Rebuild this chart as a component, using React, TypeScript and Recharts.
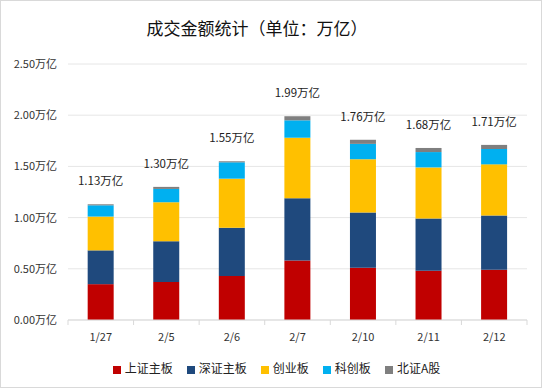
import { BarChart, Bar, XAxis, YAxis, CartesianGrid, Legend, LabelList } from 'recharts'

const categories = ['1/27', '2/5', '2/6', '2/7', '2/10', '2/11', '2/12']
const shMain = [0.35, 0.37, 0.43, 0.58, 0.51, 0.48, 0.49]
const szMain = [0.33, 0.4, 0.47, 0.61, 0.54, 0.51, 0.53]
const chiNext = [0.33, 0.38, 0.48, 0.59, 0.52, 0.5, 0.5]
const star = [0.11, 0.13, 0.16, 0.17, 0.15, 0.15, 0.15]
const bse = [0.01, 0.02, 0.01, 0.04, 0.04, 0.04, 0.04]
const yTicks = [0, 0.5, 1, 1.5, 2, 2.5]

const series = [
  { key: 'sh', name: '上证主板', color: '#C00000' },
  { key: 'sz', name: '深证主板', color: '#1F497D' },
  { key: 'cy', name: '创业板', color: '#FFC000' },
  { key: 'kc', name: '科创板', color: '#00B0F0' },
  { key: 'bz', name: '北证A股', color: '#7F7F7F' }
]

const data = categories.map((c, i) => ({
  date: c,
  sh: shMain[i],
  sz: szMain[i],
  cy: chiNext[i],
  kc: star[i],
  bz: bse[i],
  total: shMain[i] + szMain[i] + chiNext[i] + star[i] + bse[i]
}))

const FONT = '"Noto Sans CJK SC", "Noto Sans", sans-serif'
const W = 542
const H = 388
const LEFT = 68
const RIGHT = 15
const BAND = (W - LEFT - RIGHT) / categories.length

function XTick(props: any) {
  const { x, y, payload, index } = props
  const last = index === categories.length - 1
  return (
    <g>
      <line x1={x - BAND / 2} y1={y - 8} x2={x - BAND / 2} y2={y - 3} stroke="#d9d9d9" />
      {last && <line x1={x + BAND / 2} y1={y - 8} x2={x + BAND / 2} y2={y - 3} stroke="#d9d9d9" />}
      <text x={x} y={y + 13} textAnchor="middle" fill="#333" fontSize={11} fontFamily={FONT}>
        {payload.value}
      </text>
    </g>
  )
}

function TotalLabel(props: any) {
  const { x, y, width, value } = props
  return (
    <text x={x + width / 2} y={y - 19} textAnchor="middle" fill="#222" fontSize={11.5} fontFamily={FONT}>
      {Number(value).toFixed(2) + '万亿'}
    </text>
  )
}

export default function App() {
  return (
    <div
      style={{
        position: 'absolute',
        left: 0,
        top: 0,
        width: W,
        height: H,
        boxSizing: 'border-box',
        border: '1px solid #d9d9d9',
        background: '#fff',
        fontFamily: FONT
      }}
    >
      <div
        style={{
          position: 'absolute',
          left: 0,
          width: 512,
          top: 14,
          textAlign: 'center',
          fontSize: 17,
          color: '#111'
        }}
      >
        成交金额统计（单位：万亿）
      </div>
      <div style={{ position: 'absolute', left: -1, top: -1 }}>
        <BarChart width={W} height={H} data={data} margin={{ top: 64, right: RIGHT, bottom: 12, left: 0 }} barCategoryGap="30%">
          <CartesianGrid vertical={false} stroke="#e6e6e6" />
          <XAxis
            dataKey="date"
            axisLine={{ stroke: '#d9d9d9' }}
            tickLine={false}
            tick={<XTick />}
            height={39}
          />
          <YAxis
            width={LEFT}
            domain={[0, 2.5]}
            ticks={yTicks}
            axisLine={false}
            tickLine={false}
            tickMargin={5}
            tick={{ fill: '#333', fontSize: 11, fontFamily: FONT }}
            tickFormatter={(v: number) => v.toFixed(2) + '万亿'}
          />
          <Legend
            verticalAlign="bottom"
            iconType="square"
            iconSize={8}
            itemSorter={(item: any) => series.findIndex((s) => s.key === item.dataKey)}
            wrapperStyle={{ fontSize: 12, fontFamily: FONT, color: '#222', paddingLeft: 20 }}
            formatter={(value: string) => <span style={{ color: '#222', marginRight: 4 }}>{value}</span>}
          />
          {series.map((s, i) => (
            <Bar key={s.key} dataKey={s.key} name={s.name} stackId="a" fill={s.color} isAnimationActive={false}>
              {i === series.length - 1 && <LabelList dataKey="total" content={<TotalLabel />} />}
            </Bar>
          ))}
        </BarChart>
      </div>
    </div>
  )
}
